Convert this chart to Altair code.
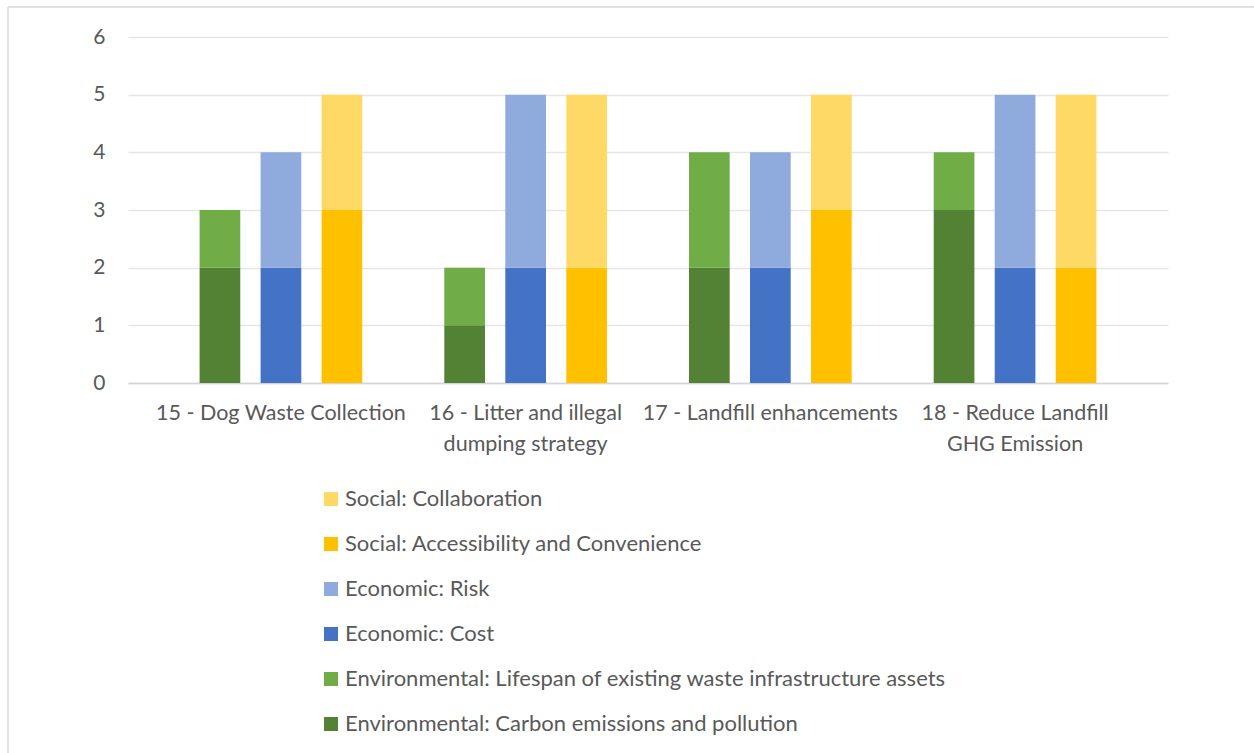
import altair as alt
import pandas as pd

# Projects on the x axis and how their labels wrap
categories = [
    "15 - Dog Waste Collection",
    "16 - Litter and illegal dumping strategy",
    "17 - Landfill enhancements",
    "18 - Reduce Landfill GHG Emission",
]
label_lines = [
    ["15 - Dog Waste Collection"],
    ["16 - Litter and illegal", "dumping strategy"],
    ["17 - Landfill enhancements"],
    ["18 - Reduce Landfill", "GHG Emission"],
]

# Scores per criterion, one value per project
carbon = [2, 1, 2, 3]
lifespan = [1, 1, 2, 1]
cost = [2, 2, 2, 2]
risk = [2, 3, 2, 3]
access = [3, 2, 3, 2]
collab = [2, 3, 2, 3]

groups = ["Environmental", "Economic", "Social"]

series = [
    ("Environmental: Carbon emissions and pollution", "Environmental", 0, carbon, "#548235"),
    ("Environmental: Lifespan of existing waste infrastructure assets", "Environmental", 1, lifespan, "#70AD47"),
    ("Economic: Cost", "Economic", 0, cost, "#4472C4"),
    ("Economic: Risk", "Economic", 1, risk, "#8FAADC"),
    ("Social: Accessibility and Convenience", "Social", 0, access, "#FFC000"),
    ("Social: Collaboration", "Social", 1, collab, "#FFD966"),
]

rows = []
for name, group, level, values, _ in series:
    for cat, v in zip(categories, values):
        rows.append({"project": cat, "series": name, "group": group, "level": level, "score": v})
df = pd.DataFrame(rows)

# Legend lists the top segments first
legend_order = [s[0] for s in reversed(series)]
legend_colors = [s[4] for s in reversed(series)]

label_expr = ""
for cat, lines in zip(categories, label_lines):
    arr = "[" + ",".join("'" + l + "'" for l in lines) + "]"
    label_expr += f"datum.value == '{cat}' ? {arr} : "
label_expr += "datum.value"

FONT = "Lato"
TEXT = "#595959"

bars = alt.Chart(df).mark_bar().encode(
    x=alt.X(
        "project:N",
        sort=categories,
        scale=alt.Scale(paddingInner=0, paddingOuter=0.125),
        axis=alt.Axis(
            title=None,
            labelAngle=0,
            labelExpr=label_expr,
            labelFontSize=21.5,
            labelLineHeight=31,
            labelPadding=19,
            labelColor=TEXT,
            labelFont=FONT,
            labelLimit=400,
            ticks=False,
            domainColor="#D4D4D4",
            domainWidth=1.5,
        ),
    ),
    xOffset=alt.XOffset(
        "group:N",
        sort=groups,
        scale=alt.Scale(paddingInner=0.333, paddingOuter=0.672),
    ),
    y=alt.Y(
        "score:Q",
        stack="zero",
        scale=alt.Scale(domain=[0, 6]),
        axis=alt.Axis(
            title=None,
            values=[0, 1, 2, 3, 4, 5, 6],
            format="d",
            labelFontSize=21,
            labelColor=TEXT,
            labelFont=FONT,
            labelPadding=23,
            ticks=False,
            domain=False,
            gridColor="#E6E6E6",
            gridWidth=1.5,
        ),
    ),
    color=alt.Color(
        "series:N",
        scale=alt.Scale(domain=legend_order, range=legend_colors),
        legend=alt.Legend(
            title=None,
            orient="none",
            legendX=192,
            legendY=451,
            direction="vertical",
            symbolType="square",
            symbolSize=196,
            symbolStrokeWidth=0,
            labelFontSize=22,
            labelFont=FONT,
            labelColor=TEXT,
            labelOffset=3,
            labelLimit=900,
            rowPadding=23,
        ),
    ),
    order=alt.Order("level:Q", sort="ascending"),
)

one = pd.DataFrame({"k": [0]})
frame_top = alt.Chart(one).mark_rule(color="#D9D9D9", strokeWidth=1.5).encode(
    x=alt.value(-120), x2=alt.value(1130), y=alt.value(-30)
)
frame_left = alt.Chart(one).mark_rule(color="#D9D9D9", strokeWidth=1.5).encode(
    x=alt.value(-120), y=alt.value(-30), y2=alt.value(720)
)

chart = alt.layer(frame_top, frame_left, bars).properties(
    width=1040,
    height=346,
    autosize=alt.AutoSizeParams(type="none"),
    padding={"left": 128, "top": 37, "right": 86, "bottom": 370},
    background="white",
).configure_view(stroke=None)

chart.save("out.html", embed_options={"renderer": "svg", "actions": False})
